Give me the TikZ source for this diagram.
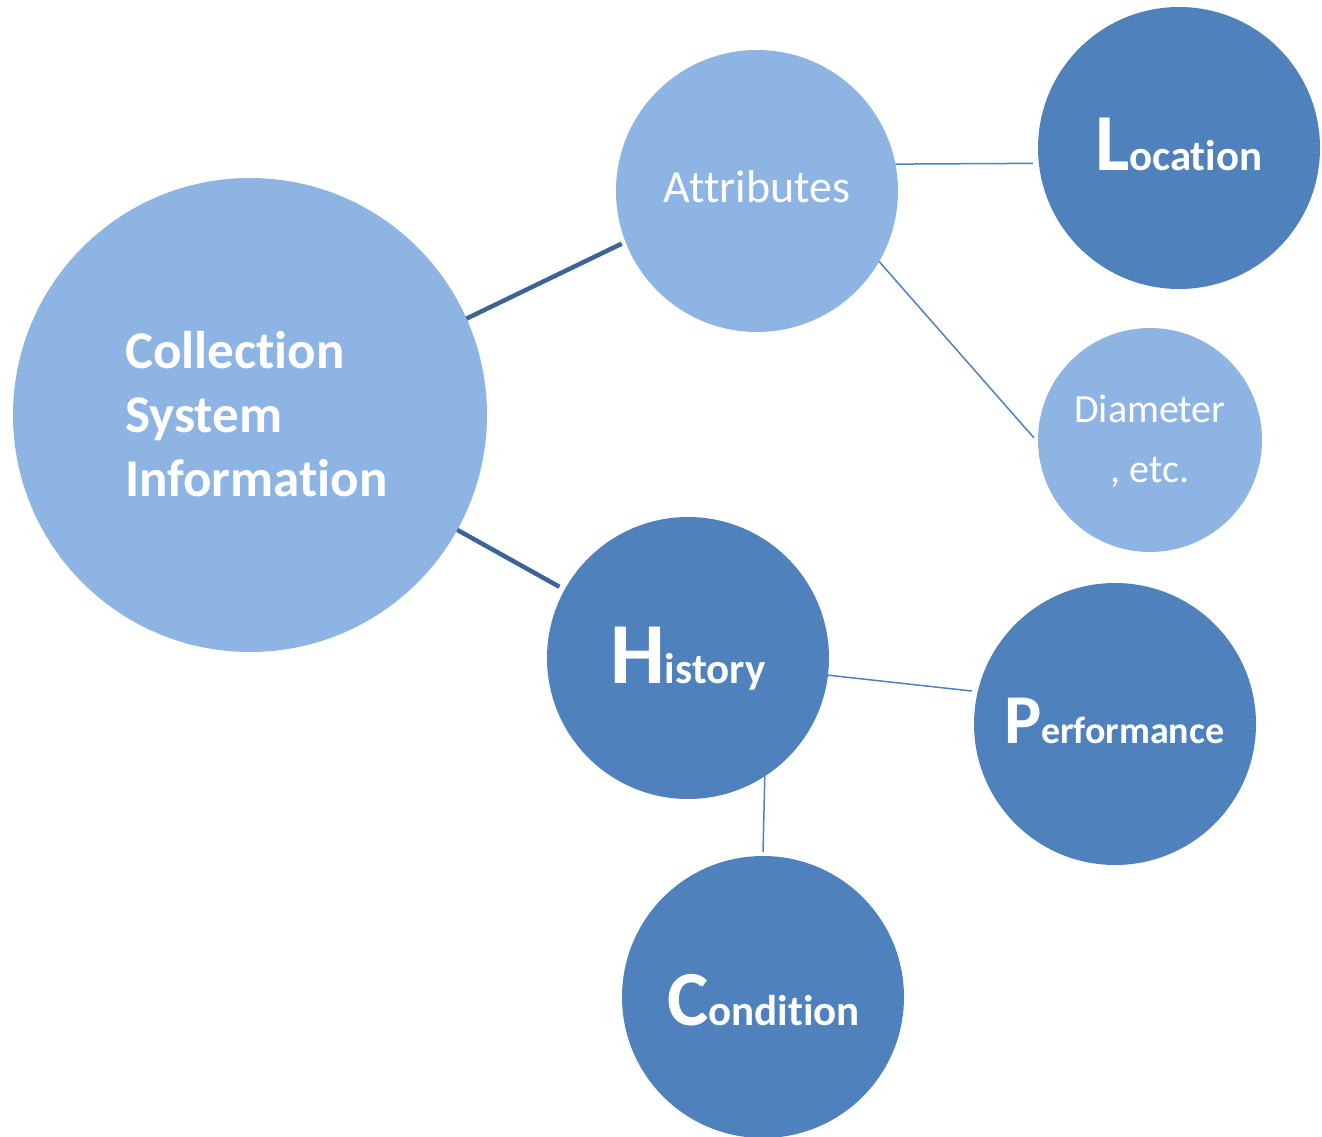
\documentclass[tikz,border=0pt]{standalone}
\usepackage{fontspec}
\setmainfont{Carlito}[Ligatures=NoCommon,RawFeature=-liga]
\definecolor{lightc}{HTML}{8EB4E3}
\definecolor{darkc}{HTML}{4F81BD}
\definecolor{thickln}{HTML}{3C6496}
\definecolor{thinln}{HTML}{4F81BD}
\begin{document}
\begin{tikzpicture}[x=1pt,y=-1pt,
  bubble/.style={circle,inner sep=0pt,outer sep=0pt,draw=none},
  lightb/.style={bubble,fill=lightc},
  darkb/.style={bubble,fill=darkc},
  lbl/.style={text=white,inner sep=0pt,outer sep=0pt},
  thickline/.style={draw=thickln,line width=4.5pt},
  thinline/.style={draw=thinln,line width=1.5pt}]
\useasboundingbox (0,0) rectangle (1322,1137);
\node[lightb,minimum size=474pt] (csi) at (250,415) {};
\node[lightb,minimum size=282pt] (attr) at (757,191) {};
\node[darkb,minimum size=282pt] (loc) at (1179,148) {};
\node[lightb,minimum size=224pt] (diam) at (1150,440) {};
\node[darkb,minimum size=282pt] (hist) at (688,658) {};
\node[darkb,minimum size=282pt] (perf) at (1115,724) {};
\node[darkb,minimum size=282pt] (cond) at (763,997) {};
% labels
\node[lbl,anchor=base west,align=left,font=\fontsize{53}{64}\selectfont\bfseries] (csit) at (125,496) {Collection\\System\\Information};
\node[lbl,anchor=base,font=\fontsize{46}{46}\selectfont] (attrt) at (757,202) {Attributes};
\node[lbl,anchor=base,font=\fontsize{40}{40}\selectfont] (diamt) at (1150,422) {Diameter};
\node[lbl,anchor=base,font=\fontsize{40}{40}\selectfont] (diamt2) at (1150,482) {, etc.};
\node[lbl,anchor=base west,font=\bfseries] (histt) at (610,683) {{\fontsize{87}{87}\selectfont H}{\fontsize{43}{43}\selectfont istory}};
\node[lbl,anchor=base west,font=\bfseries] (loct) at (1095,170) {{\fontsize{81}{81}\selectfont L}{\fontsize{43}{43}\selectfont ocation}};
\node[lbl,anchor=base west,font=\bfseries] (perft) at (1004,743) {{\fontsize{70}{70}\selectfont P}{\fontsize{38}{38}\selectfont erformance}};
\node[lbl,anchor=base west,font=\bfseries] (condt) at (667,1025) {{\fontsize{78}{78}\selectfont C}{\fontsize{43}{43}\selectfont ondition}};
% connectors
\draw[thickline] (csi.24) -- ([shift={(-203.6:6pt)}]attr.203.6);
\draw[thickline] (csi.-29) -- ([shift={(151.5:6pt)}]hist.151.5);
\draw[thinline] (attr.11) -- ([shift={(186:6pt)}]loc.186);
\draw[thinline] (attr.-30.5) -- ([shift={(179:4pt)}]diam.179);
\draw[thinline] (hist.-7.7) -- ([shift={(167.6:6pt)}]perf.167.6);
\draw[thinline] (hist.-57.6) -- ([shift={(90:4pt)}]cond.90);
\end{tikzpicture}
\end{document}
